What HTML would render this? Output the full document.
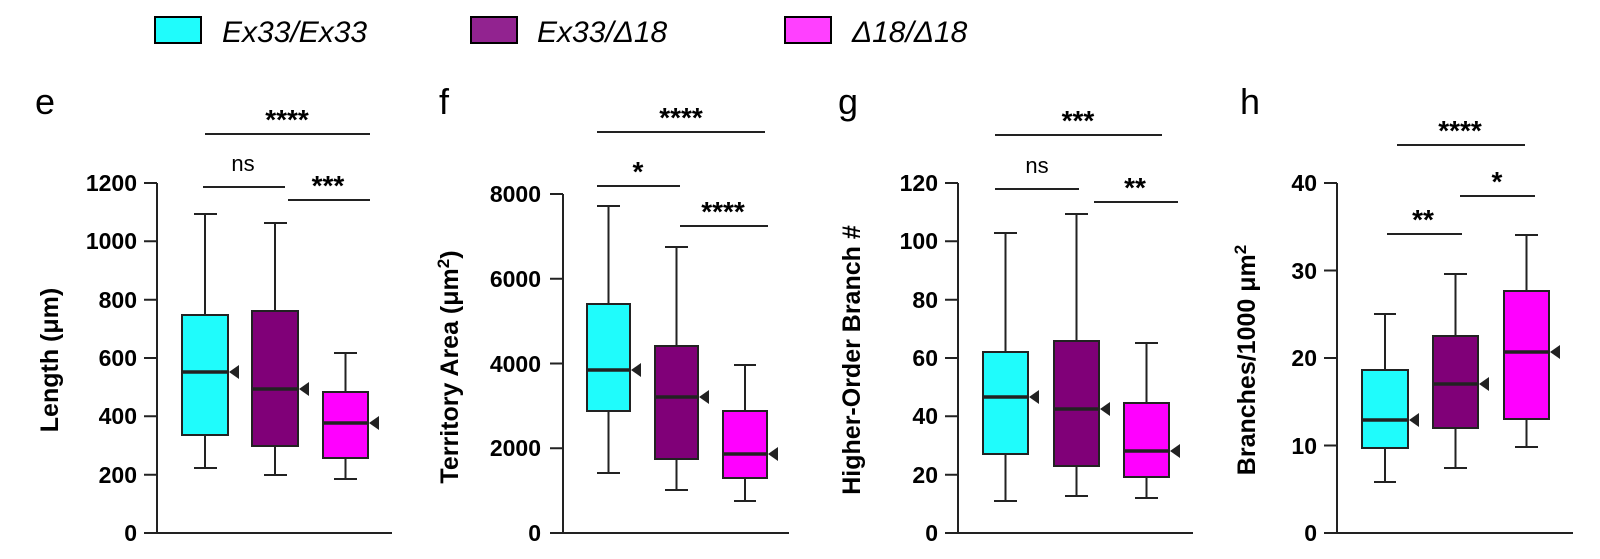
<!DOCTYPE html>
<html><head><meta charset="utf-8"><style>
html,body{margin:0;padding:0;background:#fff;}
svg{display:block;}
text{font-family:"Liberation Sans",Arial,sans-serif;}
.t{font-size:23px;font-weight:bold;text-anchor:end;}
.yl{font-size:25px;font-weight:bold;text-anchor:middle;}
.st{font-size:28px;font-weight:bold;text-anchor:middle;}
.ns{font-size:22px;text-anchor:middle;}
.lt{font-size:36px;}
.lg{font-size:30px;font-style:italic;}
</style></head><body>
<svg width="1600" height="559" viewBox="0 0 1600 559" xmlns="http://www.w3.org/2000/svg">
<g stroke="#000" stroke-width="1.5">
<rect x="155" y="17" width="46" height="26" fill="#1ffcfc" stroke-width="2"/>
<rect x="471" y="17" width="46" height="26" fill="#922390" stroke-width="2"/>
<rect x="785" y="17" width="46" height="26" fill="#ff40ff" stroke-width="2"/>
</g>
<text class="lg" x="222" y="42">Ex33/Ex33</text>
<text class="lg" x="537" y="42">Ex33/Δ18</text>
<text class="lg" x="852" y="42">Δ18/Δ18</text>

<text class="lt" x="35" y="114">e</text>
<text class="lt" x="439" y="114">f</text>
<text class="lt" x="838" y="114">g</text>
<text class="lt" x="1240" y="114">h</text>

<!-- ===== Panel e ===== -->
<g stroke="#222" stroke-width="2" fill="none">
<path d="M157 183V533H392 M144 183H157 M144 241.3H157 M144 299.7H157 M144 358H157 M144 416.3H157 M144 474.7H157 M144 533H157"/>
<path d="M205 134H370 M203 187H285 M288 200H370"/>
<path d="M205 214V315 M205 435V468 M194 214H217 M194 468H217"/>
<path d="M275 223V311 M275 446V475 M264 223H287 M264 475H287"/>
<path d="M345.5 353V392 M345.5 458V479 M334 353H357 M334 479H357"/>
</g>
<g stroke="#222" stroke-width="2">
<rect x="182" y="315" width="46" height="120" fill="#1ffcfc"/>
<rect x="252" y="311" width="46" height="135" fill="#800078"/>
<rect x="323" y="392" width="45" height="66" fill="#ff00ff"/>
</g>
<g stroke="#222" stroke-width="3.5"><path d="M182 372H228 M252 389H298 M323 423H368"/></g>
<g fill="#222"><path d="M229 372L239 365V379Z M299 389L309 382V396Z M369 423L379 416V430Z"/></g>
<text class="t" x="137" y="191">1200</text><text class="t" x="137" y="249">1000</text><text class="t" x="137" y="308">800</text><text class="t" x="137" y="366">600</text><text class="t" x="137" y="424">400</text><text class="t" x="137" y="483">200</text><text class="t" x="137" y="541">0</text>
<text class="yl" transform="translate(58 360) rotate(-90)">Length (μm)</text>
<text class="st" x="287" y="129">****</text>
<text class="ns" x="243" y="171">ns</text>
<text class="st" x="328" y="195">***</text>

<!-- ===== Panel f ===== -->
<g stroke="#222" stroke-width="2" fill="none">
<path d="M563 194V533H789 M550 194H563 M550 278.75H563 M550 363.5H563 M550 448.25H563 M550 533H563"/>
<path d="M597 132H765 M597 186H680 M680 226H768"/>
<path d="M608.5 206V304 M608.5 411V473 M597 206H620 M597 473H620"/>
<path d="M676.5 247V346 M676.5 459V490 M665 247H688 M665 490H688"/>
<path d="M745 365V411 M745 478V501 M734 365H756 M734 501H756"/>
</g>
<g stroke="#222" stroke-width="2">
<rect x="587" y="304" width="43" height="107" fill="#1ffcfc"/>
<rect x="655" y="346" width="43" height="113" fill="#800078"/>
<rect x="723" y="411" width="44" height="67" fill="#ff00ff"/>
</g>
<g stroke="#222" stroke-width="3.5"><path d="M587 370H630 M655 397H698 M723 454H767"/></g>
<g fill="#222"><path d="M631 370L641 363V377Z M699 397L709 390V404Z M768 454L778 447V461Z"/></g>
<text class="t" x="541" y="202">8000</text><text class="t" x="541" y="287">6000</text><text class="t" x="541" y="372">4000</text><text class="t" x="541" y="456">2000</text><text class="t" x="541" y="541">0</text>
<text class="yl" transform="translate(458 367) rotate(-90)">Territory Area (μm<tspan dy="-9" font-size="17">2</tspan><tspan dy="9">)</tspan></text>
<text class="st" x="681" y="127">****</text>
<text class="st" x="638" y="181">*</text>
<text class="st" x="723" y="221">****</text>

<!-- ===== Panel g ===== -->
<g stroke="#222" stroke-width="2" fill="none">
<path d="M958 183V533H1193 M945 183H958 M945 241.3H958 M945 299.7H958 M945 358H958 M945 416.3H958 M945 474.7H958 M945 533H958"/>
<path d="M995 135H1162 M995 189H1079 M1094 202H1178"/>
<path d="M1005.5 233V352 M1005.5 454V501 M994 233H1017 M994 501H1017"/>
<path d="M1076.5 214V341 M1076.5 466V496 M1065 214H1088 M1065 496H1088"/>
<path d="M1146.5 343V403 M1146.5 477V498 M1135 343H1158 M1135 498H1158"/>
</g>
<g stroke="#222" stroke-width="2">
<rect x="983" y="352" width="45" height="102" fill="#1ffcfc"/>
<rect x="1054" y="341" width="45" height="125" fill="#800078"/>
<rect x="1124" y="403" width="45" height="74" fill="#ff00ff"/>
</g>
<g stroke="#222" stroke-width="3.5"><path d="M983 397H1028 M1054 409H1099 M1124 451H1169"/></g>
<g fill="#222"><path d="M1029 397L1039 390V404Z M1100 409L1110 402V416Z M1170 451L1180 444V458Z"/></g>
<text class="t" x="938" y="191">120</text><text class="t" x="938" y="249">100</text><text class="t" x="938" y="308">80</text><text class="t" x="938" y="366">60</text><text class="t" x="938" y="424">40</text><text class="t" x="938" y="483">20</text><text class="t" x="938" y="541">0</text>
<text class="yl" transform="translate(860 360) rotate(-90)">Higher-Order Branch #</text>
<text class="st" x="1078" y="130">***</text>
<text class="ns" x="1037" y="173">ns</text>
<text class="st" x="1135" y="197">**</text>

<!-- ===== Panel h ===== -->
<g stroke="#222" stroke-width="2" fill="none">
<path d="M1337 183V533H1573 M1324 183H1337 M1324 270.5H1337 M1324 358H1337 M1324 445.5H1337 M1324 533H1337"/>
<path d="M1397 145H1525 M1387 234H1462 M1460 196H1535"/>
<path d="M1385 314V370 M1385 448V482 M1374 314H1396 M1374 482H1396"/>
<path d="M1455.5 274V336 M1455.5 428V468 M1444 274H1467 M1444 468H1467"/>
<path d="M1526.5 235V291 M1526.5 419V447 M1515 235H1538 M1515 447H1538"/>
</g>
<g stroke="#222" stroke-width="2">
<rect x="1362" y="370" width="46" height="78" fill="#1ffcfc"/>
<rect x="1433" y="336" width="45" height="92" fill="#800078"/>
<rect x="1504" y="291" width="45" height="128" fill="#ff00ff"/>
</g>
<g stroke="#222" stroke-width="3.5"><path d="M1362 420H1408 M1433 384H1478 M1504 352H1549"/></g>
<g fill="#222"><path d="M1409 420L1419 413V427Z M1479 384L1489 377V391Z M1550 352L1560 345V359Z"/></g>
<text class="t" x="1317" y="191">40</text><text class="t" x="1317" y="279">30</text><text class="t" x="1317" y="366">20</text><text class="t" x="1317" y="454">10</text><text class="t" x="1317" y="541">0</text>
<text class="yl" transform="translate(1255 360) rotate(-90)">Branches/1000 μm<tspan dy="-9" font-size="17">2</tspan></text>
<text class="st" x="1460" y="140">****</text>
<text class="st" x="1423" y="229">**</text>
<text class="st" x="1497" y="191">*</text>
</svg>
</body></html>
